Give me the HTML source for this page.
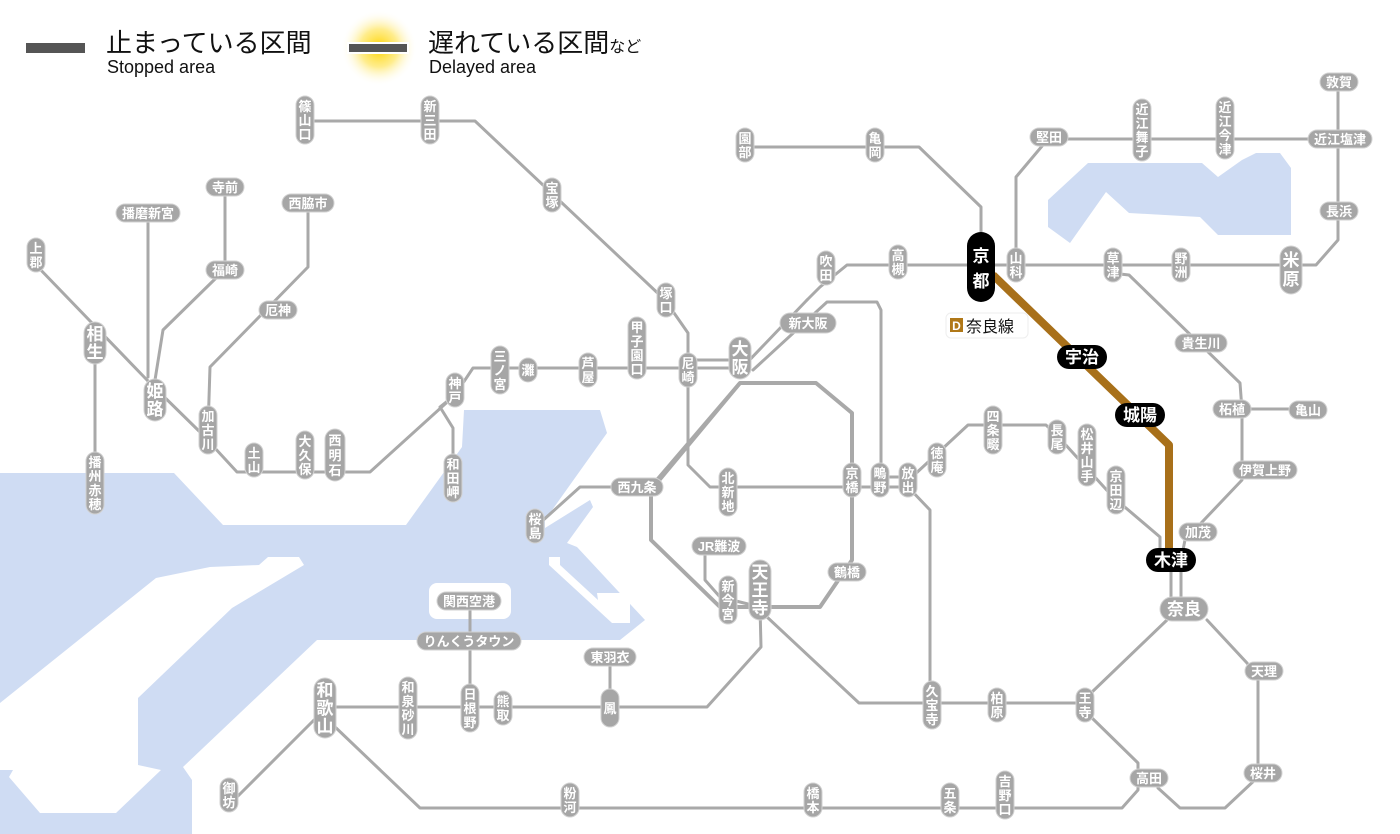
<!DOCTYPE html>
<html><head><meta charset="utf-8"><style>
html,body{margin:0;padding:0;background:#fff;}
svg{display:block;}
.ln{fill:none;stroke:#a9a9a9;stroke-width:3;stroke-linejoin:round;stroke-linecap:round;}
.lp{fill:none;stroke:#a9a9a9;stroke-width:4;stroke-linejoin:round;}
.p{fill:#a6a6a6;stroke:#d2d2d2;stroke-width:1;}
.b{fill:#000;}
text{font-family:"Liberation Sans","Noto Sans CJK JP",sans-serif;}
.t{fill:#fff;font-size:13px;font-weight:bold;text-anchor:middle;}
.T{fill:#fff;font-size:17px;font-weight:bold;text-anchor:middle;}
</style></head><body>
<svg width="1400" height="834" viewBox="0 0 1400 834" xmlns="http://www.w3.org/2000/svg">
<defs><radialGradient id="g"><stop offset="0" stop-color="#ffd400"/><stop offset="0.5" stop-color="#ffe870" stop-opacity="0.8"/><stop offset="1" stop-color="#fff" stop-opacity="0"/></radialGradient></defs>
<!-- water -->
<g fill="#cfdcf3">
<polygon points="0,473 174,473 223,525 406,525 462,447 464,410 600,410 607,433 545,520 545,528 590,500 593,507 567,543 577,547 645,620 620,640 317,640 183,767 192,780 192,834 0,834"/>
<polygon points="1048,200 1088,163 1202,163 1218,177 1242,160 1256,153 1280,153 1291,168 1291,235 1218,235 1200,217 1129,213 1106,192 1070,243 1048,227"/>
</g>
<g fill="#fff">
<polygon points="0,703 156,578 210,567 259,565 268,557 299,557 304,565 232,608 138,698 138,765 161,770 116,813 40,813 9,777 13,770 0,770"/>
<rect x="429" y="583" width="82" height="36" rx="8"/>
<polygon points="549,557 560,557 560,565 598,600 597,593 630,593 630,623 612,623 549,565"/>
</g>
<!-- legend -->
<rect x="26" y="43" width="59" height="10" fill="#555"/>
<text x="106" y="52" font-size="26" fill="#111">止まっている区間</text>
<text x="107" y="73" font-size="18" fill="#111">Stopped area</text>
<circle cx="379" cy="48" r="38" fill="url(#g)"/>
<rect x="347" y="42" width="62" height="12" fill="#fff"/>
<rect x="349" y="44" width="58" height="8" fill="#555"/>
<text x="428" y="52" font-size="26" fill="#111">遅れている区間<tspan font-size="16">など</tspan></text>
<text x="429" y="73" font-size="18" fill="#111">Delayed area</text>
<!-- lines -->
<g class="ln">
<polyline points="305,121 475,121 665,300 688,333 688,465 710,487 908,487"/>
<polyline points="36,265 147,380 201,433 237,472 370,472 455,395 473,368 740,368"/>
<polyline points="688,360 740,360"/>
<polyline points="455,395 440,407 453,428 453,470"/>
<polyline points="740,370 807,300"/>
<polyline points="753,370 827,302 877,302 881,310 881,487"/>
<polyline points="807,300 820,287 847,265 1316,265 1338,240 1338,82"/>
<polyline points="1016,265 1016,177 1048,139 1340,139"/>
<polyline points="745,147 919,147 981,207 981,240"/>
<polyline points="1111,273 1129,275 1240,383 1242,410 1242,480 1185,540 1181,560 1181,609"/>
<polyline points="1232,409 1308,409"/>
<polyline points="1171,570 1171,609"/>
<polyline points="95,343 95,483"/>
<polyline points="148,213 148,377"/>
<polyline points="155,380 163,330 214,280 225,270 225,187"/>
<polyline points="208,430 210,367 308,267 308,203"/>
<polyline points="637,487 580,487 540,523"/>
<polyline points="719,546 705,553 705,580 720,597 760,607"/>
<polyline points="760,607 761,647 707,707 325,707"/>
<polyline points="767,617 859,703 1091,703 1091,693 1167,620"/>
<polyline points="1207,620 1247,663 1258,677 1258,777 1225,808 1180,808 1158,788"/>
<polyline points="1091,717 1138,763 1138,790 1122,808 420,808 333,725"/>
<polyline points="317,717 237,797"/>
<polyline points="470,601 470,707"/>
<polyline points="610,657 610,707"/>
<polyline points="881,477 912,477 968,425 1046,425 1064,443 1113,497 1160,537 1160,550"/>
<polyline points="908,487 930,510 930,705"/>
</g>
<polygon class="lp" points="740,383 816,383 852,413 852,560 820,607 720,607 651,540 651,490"/>
<polyline class="lp" points="740,383 651,487"/>
<polyline points="993,275 1169,445 1169,550" fill="none" stroke="#a8701a" stroke-width="8" stroke-linejoin="round"/>
<!-- vertical pills normal -->
<g>
<rect class="p" x="296" y="96" width="18" height="48" rx="9"/><text class="t" x="305" y="111">篠</text><text class="t" x="305" y="125">山</text><text class="t" x="305" y="139">口</text>
<rect class="p" x="421" y="96" width="18" height="48" rx="9"/><text class="t" x="430" y="111">新</text><text class="t" x="430" y="125">三</text><text class="t" x="430" y="139">田</text>
<rect class="p" x="543" y="178" width="18" height="34" rx="9"/><text class="t" x="552" y="193">宝</text><text class="t" x="552" y="207">塚</text>
<rect class="p" x="657" y="283" width="18" height="34" rx="9"/><text class="t" x="666" y="298">塚</text><text class="t" x="666" y="312">口</text>
<rect class="p" x="679" y="353" width="18" height="34" rx="9"/><text class="t" x="688" y="368">尼</text><text class="t" x="688" y="382">崎</text>
<rect class="p" x="628" y="317" width="18" height="62" rx="9"/><text class="t" x="637" y="332">甲</text><text class="t" x="637" y="346">子</text><text class="t" x="637" y="360">園</text><text class="t" x="637" y="374">口</text>
<rect class="p" x="579" y="353" width="18" height="34" rx="9"/><text class="t" x="588" y="368">芦</text><text class="t" x="588" y="382">屋</text>
<rect class="p" x="519" y="358" width="18" height="24" rx="9"/><text class="t" x="528" y="375">灘</text>
<rect class="p" x="491" y="346" width="18" height="48" rx="9"/><text class="t" x="500" y="361">三</text><text class="t" x="500" y="375">ノ</text><text class="t" x="500" y="389">宮</text>
<rect class="p" x="446" y="373" width="18" height="34" rx="9"/><text class="t" x="455" y="388">神</text><text class="t" x="455" y="402">戸</text>
<rect class="p" x="444" y="454" width="18" height="48" rx="9"/><text class="t" x="453" y="469">和</text><text class="t" x="453" y="483">田</text><text class="t" x="453" y="497">岬</text>
<rect class="p" x="325" y="429" width="20" height="52" rx="10"/><text class="t" x="335" y="445" font-size="15">西</text><text class="t" x="335" y="460" font-size="15">明</text><text class="t" x="335" y="475" font-size="15">石</text>
<rect class="p" x="296" y="431" width="18" height="48" rx="9"/><text class="t" x="305" y="446">大</text><text class="t" x="305" y="460">久</text><text class="t" x="305" y="474">保</text>
<rect class="p" x="245" y="443" width="18" height="34" rx="9"/><text class="t" x="254" y="458">土</text><text class="t" x="254" y="472">山</text>
<rect class="p" x="199" y="406" width="18" height="48" rx="9"/><text class="t" x="208" y="421">加</text><text class="t" x="208" y="435">古</text><text class="t" x="208" y="449">川</text>
<rect class="p" x="27" y="238" width="18" height="34" rx="9"/><text class="t" x="36" y="253">上</text><text class="t" x="36" y="267">郡</text>
<rect class="p" x="86" y="452" width="18" height="62" rx="9"/><text class="t" x="95" y="467">播</text><text class="t" x="95" y="481">州</text><text class="t" x="95" y="495">赤</text><text class="t" x="95" y="509">穂</text>
<rect class="p" x="817" y="251" width="18" height="34" rx="9"/><text class="t" x="826" y="266">吹</text><text class="t" x="826" y="280">田</text>
<rect class="p" x="889" y="245" width="18" height="34" rx="9"/><text class="t" x="898" y="260">高</text><text class="t" x="898" y="274">槻</text>
<rect class="p" x="1007" y="248" width="18" height="34" rx="9"/><text class="t" x="1016" y="263">山</text><text class="t" x="1016" y="277">科</text>
<rect class="p" x="736" y="128" width="18" height="34" rx="9"/><text class="t" x="745" y="143">園</text><text class="t" x="745" y="157">部</text>
<rect class="p" x="866" y="128" width="18" height="34" rx="9"/><text class="t" x="875" y="143">亀</text><text class="t" x="875" y="157">岡</text>
<rect class="p" x="1133" y="99" width="18" height="62" rx="9"/><text class="t" x="1142" y="114">近</text><text class="t" x="1142" y="128">江</text><text class="t" x="1142" y="142">舞</text><text class="t" x="1142" y="156">子</text>
<rect class="p" x="1216" y="97" width="18" height="62" rx="9"/><text class="t" x="1225" y="112">近</text><text class="t" x="1225" y="126">江</text><text class="t" x="1225" y="140">今</text><text class="t" x="1225" y="154">津</text>
<rect class="p" x="1172" y="248" width="18" height="34" rx="9"/><text class="t" x="1181" y="263">野</text><text class="t" x="1181" y="277">洲</text>
<rect class="p" x="1104" y="248" width="18" height="34" rx="9"/><text class="t" x="1113" y="263">草</text><text class="t" x="1113" y="277">津</text>
<rect class="p" x="1076" y="688" width="18" height="34" rx="9"/><text class="t" x="1085" y="703">王</text><text class="t" x="1085" y="717">寺</text>
<rect class="p" x="988" y="688" width="18" height="34" rx="9"/><text class="t" x="997" y="703">柏</text><text class="t" x="997" y="717">原</text>
<rect class="p" x="923" y="681" width="18" height="48" rx="9"/><text class="t" x="932" y="696">久</text><text class="t" x="932" y="710">宝</text><text class="t" x="932" y="724">寺</text>
<rect class="p" x="996" y="771" width="18" height="48" rx="9"/><text class="t" x="1005" y="786">吉</text><text class="t" x="1005" y="800">野</text><text class="t" x="1005" y="814">口</text>
<rect class="p" x="941" y="783" width="18" height="34" rx="9"/><text class="t" x="950" y="798">五</text><text class="t" x="950" y="812">条</text>
<rect class="p" x="804" y="783" width="18" height="34" rx="9"/><text class="t" x="813" y="798">橋</text><text class="t" x="813" y="812">本</text>
<rect class="p" x="561" y="783" width="18" height="34" rx="9"/><text class="t" x="570" y="798">粉</text><text class="t" x="570" y="812">河</text>
<rect class="p" x="220" y="778" width="18" height="34" rx="9"/><text class="t" x="229" y="793">御</text><text class="t" x="229" y="807">坊</text>
<rect class="p" x="399" y="677" width="18" height="62" rx="9"/><text class="t" x="408" y="692">和</text><text class="t" x="408" y="706">泉</text><text class="t" x="408" y="720">砂</text><text class="t" x="408" y="734">川</text>
<rect class="p" x="461" y="684" width="18" height="48" rx="9"/><text class="t" x="470" y="699">日</text><text class="t" x="470" y="713">根</text><text class="t" x="470" y="727">野</text>
<rect class="p" x="494" y="691" width="18" height="34" rx="9"/><text class="t" x="503" y="706">熊</text><text class="t" x="503" y="720">取</text>
<rect class="p" x="601" y="689" width="18" height="38" rx="9"/><text class="t" x="610" y="713">鳳</text>
<rect class="p" x="719" y="576" width="18" height="48" rx="9"/><text class="t" x="728" y="591">新</text><text class="t" x="728" y="605">今</text><text class="t" x="728" y="619">宮</text>
<rect class="p" x="843" y="463" width="18" height="34" rx="9"/><text class="t" x="852" y="478">京</text><text class="t" x="852" y="492">橋</text>
<rect class="p" x="719" y="468" width="18" height="48" rx="9"/><text class="t" x="728" y="483">北</text><text class="t" x="728" y="497">新</text><text class="t" x="728" y="511">地</text>
<rect class="p" x="526" y="509" width="18" height="34" rx="9"/><text class="t" x="535" y="524">桜</text><text class="t" x="535" y="538">島</text>
<rect class="p" x="871" y="463" width="18" height="34" rx="9"/><text class="t" x="880" y="478">鴫</text><text class="t" x="880" y="492">野</text>
<rect class="p" x="899" y="463" width="18" height="34" rx="9"/><text class="t" x="908" y="478">放</text><text class="t" x="908" y="492">出</text>
<rect class="p" x="928" y="443" width="18" height="34" rx="9"/><text class="t" x="937" y="458">徳</text><text class="t" x="937" y="472">庵</text>
<rect class="p" x="984" y="406" width="18" height="48" rx="9"/><text class="t" x="993" y="421">四</text><text class="t" x="993" y="435">条</text><text class="t" x="993" y="449">畷</text>
<rect class="p" x="1048" y="420" width="18" height="34" rx="9"/><text class="t" x="1057" y="435">長</text><text class="t" x="1057" y="449">尾</text>
<rect class="p" x="1078" y="424" width="18" height="62" rx="9"/><text class="t" x="1087" y="439">松</text><text class="t" x="1087" y="453">井</text><text class="t" x="1087" y="467">山</text><text class="t" x="1087" y="481">手</text>
<rect class="p" x="1107" y="466" width="18" height="48" rx="9"/><text class="t" x="1116" y="481">京</text><text class="t" x="1116" y="495">田</text><text class="t" x="1116" y="509">辺</text>
</g>
<!-- large vertical -->
<g>
<rect class="p" x="144" y="379" width="22" height="42" rx="11"/><text class="T" x="155" y="397">姫</text><text class="T" x="155" y="415">路</text>
<rect class="p" x="84" y="322" width="22" height="42" rx="11"/><text class="T" x="95" y="340">相</text><text class="T" x="95" y="358">生</text>
<rect class="p" x="729" y="337" width="22" height="42" rx="11"/><text class="T" x="740" y="355">大</text><text class="T" x="740" y="373">阪</text>
<rect class="p" x="1280" y="246" width="22" height="48" rx="11"/><text class="T" x="1291" y="266">米</text><text class="T" x="1291" y="285">原</text>
<rect class="p" x="314" y="678" width="22" height="60" rx="11"/><text class="T" x="325" y="696">和</text><text class="T" x="325" y="714">歌</text><text class="T" x="325" y="732">山</text>
<rect class="p" x="749" y="560" width="22" height="60" rx="11"/><text class="T" x="760" y="578">天</text><text class="T" x="760" y="596">王</text><text class="T" x="760" y="614">寺</text>
<rect class="b" x="967" y="232" width="28" height="70" rx="14"/><text class="T" x="981" y="262" font-size="22">京</text><text class="T" x="981" y="287" font-size="22">都</text>
</g>
<!-- horizontal pills -->
<g>
<rect class="p" x="116" y="204" width="64" height="18" rx="9"/><text class="t" x="148" y="218">播磨新宮</text>
<rect class="p" x="206" y="178" width="38" height="18" rx="9"/><text class="t" x="225" y="192">寺前</text>
<rect class="p" x="206" y="261" width="38" height="18" rx="9"/><text class="t" x="225" y="275">福崎</text>
<rect class="p" x="282" y="194" width="52" height="18" rx="9"/><text class="t" x="308" y="208">西脇市</text>
<rect class="p" x="259" y="301" width="38" height="18" rx="9"/><text class="t" x="278" y="315">厄神</text>
<rect class="p" x="780" y="313" width="56" height="20" rx="10"/><text class="t" x="808" y="328" font-size="15">新大阪</text>
<rect class="p" x="1030" y="128" width="38" height="18" rx="9"/><text class="t" x="1049" y="142">堅田</text>
<rect class="p" x="1320" y="73" width="38" height="18" rx="9"/><text class="t" x="1339" y="87">敦賀</text>
<rect class="p" x="1308" y="130" width="64" height="18" rx="9"/><text class="t" x="1340" y="144">近江塩津</text>
<rect class="p" x="1320" y="202" width="38" height="18" rx="9"/><text class="t" x="1339" y="216">長浜</text>
<rect class="p" x="1175" y="334" width="52" height="18" rx="9"/><text class="t" x="1201" y="348">貴生川</text>
<rect class="p" x="1213" y="400" width="38" height="18" rx="9"/><text class="t" x="1232" y="414">柘植</text>
<rect class="p" x="1289" y="401" width="38" height="18" rx="9"/><text class="t" x="1308" y="415">亀山</text>
<rect class="p" x="1233" y="461" width="64" height="18" rx="9"/><text class="t" x="1265" y="475">伊賀上野</text>
<rect class="p" x="1179" y="523" width="38" height="18" rx="9"/><text class="t" x="1198" y="537">加茂</text>
<rect class="p" x="1245" y="662" width="38" height="18" rx="9"/><text class="t" x="1264" y="676">天理</text>
<rect class="p" x="1244" y="764" width="38" height="18" rx="9"/><text class="t" x="1263" y="778">桜井</text>
<rect class="p" x="1130" y="769" width="38" height="18" rx="9"/><text class="t" x="1149" y="783">高田</text>
<rect class="p" x="584" y="648" width="52" height="18" rx="9"/><text class="t" x="610" y="662">東羽衣</text>
<rect class="p" x="417" y="632" width="104" height="18" rx="9"/><text class="t" x="469" y="646">りんくうタウン</text>
<rect class="p" x="437" y="592" width="64" height="18" rx="9"/><text class="t" x="469" y="606">関西空港</text>
<rect class="p" x="692" y="537" width="54" height="18" rx="9"/><text class="t" x="719" y="551">JR難波</text>
<rect class="p" x="828" y="563" width="38" height="18" rx="9"/><text class="t" x="847" y="577">鶴橋</text>
<rect class="p" x="611" y="478" width="52" height="18" rx="9"/><text class="t" x="637" y="492">西九条</text>
<rect class="p" x="1160" y="597" width="48" height="24" rx="12"/><text class="T" x="1184" y="615">奈良</text>
<rect class="b" x="1146" y="548" width="50" height="24" rx="12"/><text class="T" x="1171" y="566">木津</text>
<rect class="b" x="1057" y="345" width="50" height="24" rx="12"/><text class="T" x="1082" y="363">宇治</text>
<rect class="b" x="1115" y="403" width="50" height="24" rx="12"/><text class="T" x="1140" y="421">城陽</text>
</g>
<!-- D 奈良線 -->
<rect x="946" y="313" width="82" height="25" rx="5" fill="#fff" stroke="#eee"/>
<rect x="950" y="318" width="13" height="14" fill="#b07818"/>
<text x="956.5" y="330" font-size="12" font-weight="bold" fill="#fff" text-anchor="middle">D</text>
<text x="966" y="332" font-size="16" fill="#111">奈良線</text>
</svg>
</body></html>
